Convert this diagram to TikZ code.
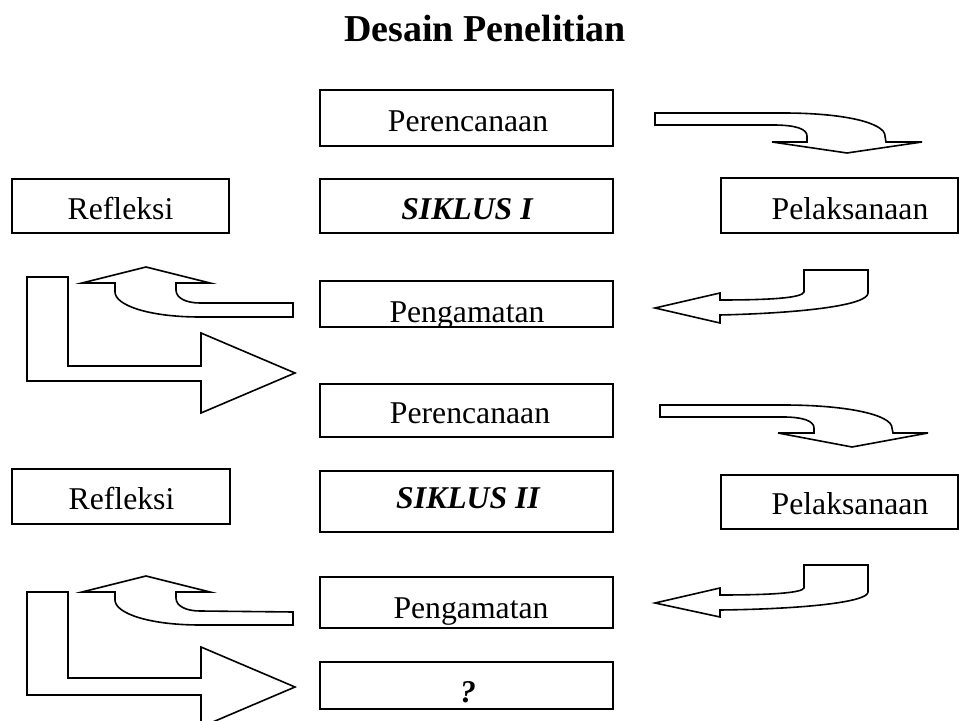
\documentclass[tikz,border=0pt]{standalone}
\usepackage{fontspec}
\setmainfont{Liberation Serif}
\begin{document}
\begin{tikzpicture}[x=0.5pt,y=-0.5pt,
  box/.style={draw, line width=0.8pt, inner sep=0pt, minimum width=146.5pt},
  lbl/.style={inner sep=0pt, anchor=base, font=\fontsize{15.85pt}{19pt}\selectfont},
  blockarrow/.style={draw, line width=0.8pt, fill=white, line join=miter}]
\clip (0,0) rectangle (970,721);
\fill[white] (0,0) rectangle (970,721);

% title
\node[lbl, font=\fontsize{19pt}{23pt}\selectfont\bfseries] (title) at (485,42) {Desain Penelitian};

% ---- cycle I ----
\node[box, minimum height=28pt] (pr1) at (466.5,118) {};
\node[lbl] (pr1t) at (468,132) {Perencanaan};
\node[box, minimum height=27pt] (s1) at (466.5,206) {};
\node[lbl, font=\fontsize{15.85pt}{19pt}\selectfont\bfseries\itshape] (s1t) at (467,220) {SIKLUS I};
\begin{scope}
  \clip (320,281) rectangle (613,327);
  \node[lbl] (pg1t) at (467,323) {Pengamatan};
\end{scope}
\node[box, minimum height=23pt] (pg1) at (466.5,304) {};
\node[box, minimum width=108.5pt, minimum height=27pt] (rf1) at (120.5,206) {};
\node[lbl] (rf1t) at (120.5,220) {Refleksi};
\node[box, minimum width=118.5pt, minimum height=27.5pt] (pl1) at (839.5,205.5) {};
\node[lbl] (pl1t) at (850,220) {Pelaksanaan};

% curved arrow: planning -> action
\draw[blockarrow] (655,113) -- (783,113) .. controls (845,113) and (885,123) .. (885,136)
  -- (886,142) -- (922,142) -- (847,153) -- (772,142) -- (807,142) -- (807,136)
  .. controls (807,129) and (796,125) .. (773,125) -- (655,125) -- cycle;
% curved arrow: action -> observation
\draw[blockarrow] (868,270) -- (804,270) -- (804,292) .. controls (802,298) and (770,300) .. (720,300)
  -- (720,293) -- (655,308) -- (720,323) -- (720,315)
  .. controls (805,313) and (868,305) .. (868,293) -- cycle;
% curved arrow: observation -> reflection
\draw[blockarrow] (293,303) -- (293,317) -- (200,317) .. controls (148,317) and (115,305) .. (115,292)
  -- (115,283) -- (82,283) -- (146,267) -- (210,283) -- (176,283) -- (176,290)
  .. controls (176,298) and (186,303) .. (200,303) -- cycle;
% bent arrow: reflection -> next cycle
\draw[blockarrow] (27,277) -- (68,277) -- (68,366) -- (201,366) -- (201,333) -- (295,373)
  -- (201,413) -- (201,381) -- (27,381) -- cycle;

% ---- cycle II ----
\node[box, minimum height=26.5pt] (pr2) at (466.5,410.5) {};
\node[lbl] (pr2t) at (470,424) {Perencanaan};
\node[box, minimum height=30.5pt] (s2) at (466.5,501.5) {};
\node[lbl, font=\fontsize{15.85pt}{19pt}\selectfont\bfseries\itshape] (s2t) at (468,509) {SIKLUS II};
\begin{scope}
  \clip (320,577) rectangle (613,628);
  \node[lbl] (pg2t) at (471,618) {Pengamatan};
\end{scope}
\node[box, minimum height=25.5pt] (pg2) at (466.5,602.5) {};
\node[box, minimum height=23.5pt] (q) at (466.5,685.5) {};
\node[lbl, font=\fontsize{15.85pt}{19pt}\selectfont\bfseries\itshape] (qt) at (468,703) {?};
\node[box, minimum width=109pt, minimum height=27.5pt] (rf2) at (121,496.5) {};
\node[lbl] (rf2t) at (121.5,510) {Refleksi};
\node[box, minimum width=118.5pt, minimum height=27pt] (pl2) at (839.5,502) {};
\node[lbl] (pl2t) at (850,515) {Pelaksanaan};

\draw[blockarrow] (660,405) -- (783,405) .. controls (848,405) and (892,415) .. (892,428)
  -- (893,433) -- (928,433) -- (852,447) -- (778,433) -- (814,433) -- (814,428)
  .. controls (814,421) and (803,417) .. (783,417) -- (660,417) -- cycle;
\draw[blockarrow] (868,565) -- (804,565) -- (804,588) .. controls (802,593) and (770,595) .. (720,595)
  -- (720,588) -- (655,603) -- (720,617) -- (720,610)
  .. controls (805,609) and (868,602) .. (868,592) -- cycle;
\draw[blockarrow] (293,612) -- (293,625) -- (200,625) .. controls (148,625) and (115,613) .. (115,600)
  -- (115,592) -- (82,592) -- (146,576) -- (210,592) -- (176,592) -- (176,598)
  .. controls (176,606) and (186,611) .. (200,611) -- cycle;
\draw[blockarrow] (27,592) -- (68,592) -- (68,678) -- (201,678) -- (201,647) -- (295,687)
  -- (201,727) -- (201,695) -- (27,695) -- cycle;
\end{tikzpicture}
\end{document}
